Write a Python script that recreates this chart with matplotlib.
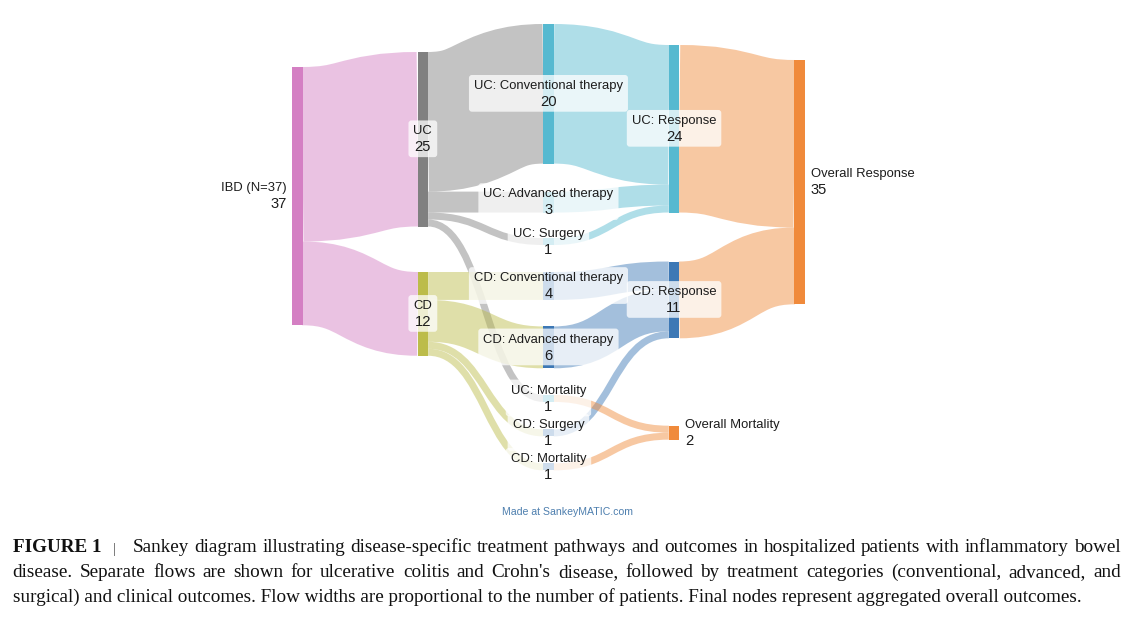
import matplotlib
matplotlib.use("Agg")
import matplotlib.pyplot as plt
from matplotlib.path import Path
from matplotlib.patches import PathPatch, Rectangle, FancyBboxPatch

# Flux du diagramme (source -> cible, nombre de patients)
flow_source = ["IBD (N=37)", "IBD (N=37)",
               "UC", "UC", "UC", "UC",
               "CD", "CD", "CD", "CD",
               "UC: Conventional therapy", "UC: Advanced therapy", "UC: Surgery",
               "CD: Conventional therapy", "CD: Advanced therapy", "CD: Surgery",
               "UC: Mortality", "CD: Mortality",
               "UC: Response", "CD: Response"]
flow_target = ["UC", "CD",
               "UC: Conventional therapy", "UC: Advanced therapy", "UC: Surgery", "UC: Mortality",
               "CD: Conventional therapy", "CD: Advanced therapy", "CD: Surgery", "CD: Mortality",
               "UC: Response", "UC: Response", "UC: Response",
               "CD: Response", "CD: Response", "CD: Response",
               "Overall Mortality", "Overall Mortality",
               "Overall Response", "Overall Response"]
flow_value = [25, 12,
              20, 3, 1, 1,
              4, 6, 1, 1,
              20, 3, 1,
              4, 6, 1,
              1, 1,
              24, 11]

caption_line1 = ("Sankey diagram illustrating disease-specific treatment pathways and outcomes "
                 "in hospitalized patients with inflammatory bowel")
caption_line2 = ("disease. Separate flows are shown for ulcerative colitis and Crohn's disease, "
                 "followed by treatment categories (conventional, advanced, and")
caption_line3 = ("surgical) and clinical outcomes. Flow widths are proportional to the number "
                 "of patients. Final nodes represent aggregated overall outcomes.")

# Mise en page (colonnes, ordre des noeuds, espacements en pixels)
columns = [
    ["IBD (N=37)"],
    ["UC", "CD"],
    ["UC: Conventional therapy", "UC: Advanced therapy", "UC: Surgery",
     "CD: Conventional therapy", "CD: Advanced therapy", "UC: Mortality",
     "CD: Surgery", "CD: Mortality"],
    ["UC: Response", "CD: Response", "Overall Mortality"],
    ["Overall Response"],
]
column_top = [67, 52, 24, 45, 60]
column_gaps = [[], [45.5], [28, 25.5, 27, 26.5, 26.6, 27.5, 27], [49, 87.4], []]
x_first, x_step = 292, 125.6
node_w = 10.5
px_per_patient = 6.98

# Couleurs
pink, grey, olive = "#d47fc3", "#808080", "#bcbc4a"
teal, blue, orange = "#56b9d0", "#3d78b5", "#f08a3b"
node_color = {
    "IBD (N=37)": pink, "UC": grey, "CD": olive,
    "UC: Conventional therapy": teal, "UC: Advanced therapy": teal, "UC: Surgery": teal,
    "UC: Mortality": teal,
    "CD: Conventional therapy": blue, "CD: Advanced therapy": blue, "CD: Surgery": blue,
    "CD: Mortality": blue,
    "UC: Response": teal, "CD: Response": blue,
    "Overall Mortality": orange, "Overall Response": orange,
}
flow_alpha = 0.47
label_font = ["Liberation Sans", "DejaVu Sans"]
text_color = "#1c1c1c"

fig = plt.figure(figsize=(11.44, 6.3), dpi=100)
ax = fig.add_axes([0, 0, 1, 1])
ax.set_xlim(0, 1144)
ax.set_ylim(630, 0)
ax.axis("off")
renderer = fig.canvas.get_renderer()

# valeurs des noeuds
inflow, outflow = {}, {}
for s, t, v in zip(flow_source, flow_target, flow_value):
    outflow[s] = outflow.get(s, 0) + v
    inflow[t] = inflow.get(t, 0) + v

node_x, node_y0, node_y1, node_val = {}, {}, {}, {}
for c, names in enumerate(columns):
    y = column_top[c]
    for i, n in enumerate(names):
        if i > 0:
            y += column_gaps[c][i - 1]
        node_val[n] = max(inflow.get(n, 0), outflow.get(n, 0))
        node_x[n] = x_first + c * x_step
        node_y0[n] = y
        y += node_val[n] * px_per_patient
        node_y1[n] = y


def center(n):
    return (node_y0[n] + node_y1[n]) / 2


# position des flux sur chaque noeud
links = list(zip(flow_source, flow_target, flow_value))
src_off, tgt_off = {}, {}
for n in node_val:
    out_links = sorted([l for l in links if l[0] == n], key=lambda l: center(l[1]))
    y = node_y0[n]
    for l in out_links:
        src_off[l] = y
        y += l[2] * px_per_patient
    in_links = sorted([l for l in links if l[1] == n], key=lambda l: center(l[0]))
    y = node_y0[n]
    for l in in_links:
        tgt_off[l] = y
        y += l[2] * px_per_patient

for l in links:
    s, t, v = l
    h = v * px_per_patient
    x0 = node_x[s] + node_w
    x1 = node_x[t]
    ys = src_off[l] + h / 2
    yt = tgt_off[l] + h / 2
    xm = (x0 + x1) / 2
    path = Path([(x0, ys), (xm, ys), (xm, yt), (x1, yt)],
                [Path.MOVETO, Path.CURVE4, Path.CURVE4, Path.CURVE4])
    col = node_color[t] if t.startswith("Overall") else node_color[s]
    ax.add_patch(PathPatch(path, fill=False, edgecolor=col, alpha=flow_alpha,
                           lw=h * 0.72, capstyle="butt", zorder=1))

for n in node_val:
    ax.add_patch(Rectangle((node_x[n], node_y0[n]), node_w, node_y1[n] - node_y0[n],
                           facecolor=node_color[n], edgecolor="none", zorder=2))

# etiquettes
for n in node_val:
    cy = center(n)
    if n not in inflow:
        x, ha = node_x[n] - 5, "right"
    elif n not in outflow:
        x, ha = node_x[n] + node_w + 6, "left"
    else:
        x, ha = node_x[n] + node_w / 2, "center"
    t1 = ax.text(x, cy - 4.8, n, ha=ha, va="baseline", fontsize=9.4,
                 family=label_font, color=text_color, zorder=4)
    t2 = ax.text(x, cy + 12.2, str(node_val[n]), ha=ha, va="baseline", fontsize=10.6,
                 family=label_font, color=text_color, zorder=4)
    if ha == "center":
        w = max(t1.get_window_extent(renderer).width, t2.get_window_extent(renderer).width)
        ax.add_patch(FancyBboxPatch((x - w / 2 - 5, cy - 18.8), w + 10, 36.7,
                                    boxstyle="round,pad=0,rounding_size=3",
                                    facecolor="white", edgecolor="none", alpha=0.75, zorder=3))

ax.text(567, 515, "Made at SankeyMATIC.com", ha="center", va="baseline", fontsize=7.6,
        family=label_font, color="#4d7eae")

# legende de la figure (texte justifie)
serif = ["Liberation Serif", "DejaVu Serif"]
probe = ax.text(0, 0, caption_line3, fontsize=12, family=serif)
cap_size = 12 * 1069 / probe.get_window_extent(renderer).width
probe.remove()


def text_width(s, **kw):
    t = ax.text(0, 0, s, fontsize=cap_size, family=serif, **kw)
    w = t.get_window_extent(renderer).width
    t.remove()
    return w


def justified(line, x0, x1, y):
    words = line.split()
    widths = [text_width(w) for w in words]
    gap = (x1 - x0 - sum(widths)) / (len(words) - 1)
    x = x0
    for w, wd in zip(words, widths):
        ax.text(x, y, w, fontsize=cap_size, family=serif, va="baseline", color="#111111")
        x += wd + gap


ax.text(12.7, 552.5, "FIGURE 1", fontsize=cap_size, family=serif, weight="bold",
        va="baseline", color="#111111")
ax.text(113, 552.5, "|", fontsize=cap_size * 0.8, family=serif, va="baseline", color="#555555")
justified(caption_line1, 132.7, 1120.7, 552.5)
justified(caption_line2, 12.7, 1120.7, 577)
ax.text(12.7, 601.7, caption_line3, fontsize=cap_size, family=serif, va="baseline",
        color="#111111")

fig.savefig("out.png", dpi=100)
